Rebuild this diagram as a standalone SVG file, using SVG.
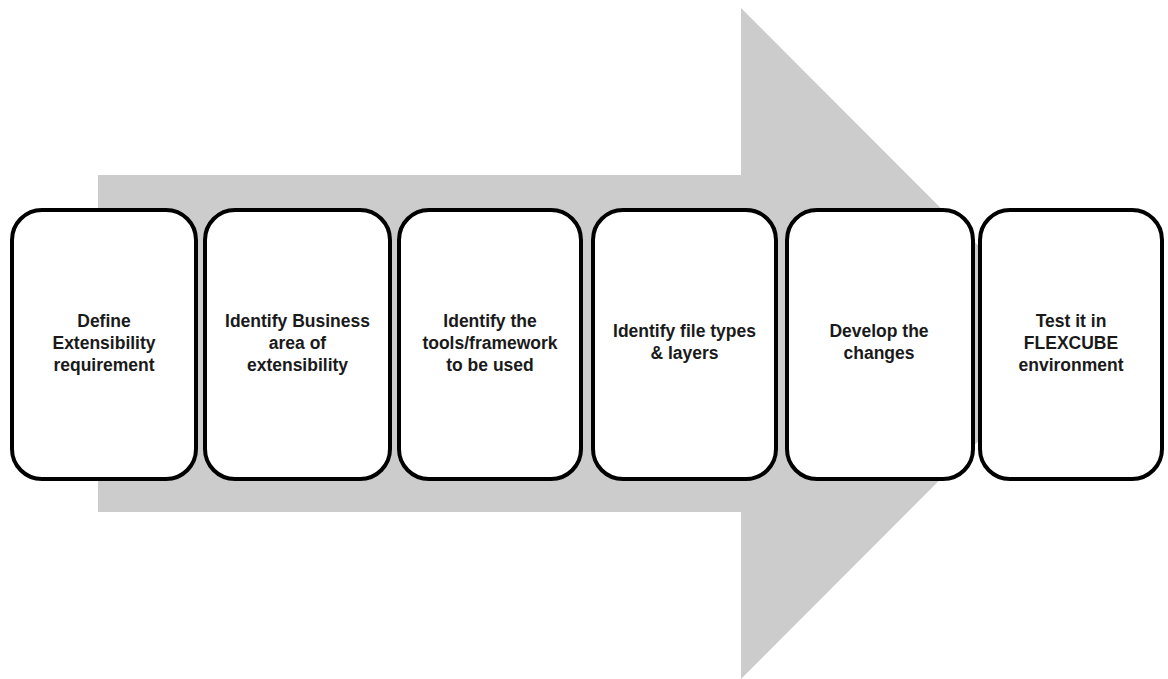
<svg xmlns="http://www.w3.org/2000/svg" width="1168" height="679" viewBox="0 0 1168 679">
<style>
.box{fill:#fff;stroke:#000;stroke-width:4}
.t{font-family:"Liberation Sans",Arial,sans-serif;font-size:17.5px;font-weight:bold;fill:#1a1a1a;text-anchor:middle}
</style>
<rect width="1168" height="679" fill="#fff"/>
<g id="arrow">
<polygon points="98,175 741,175 741,8 1076,343.5 741,679 741,512 98,512" fill="#cccccc"/>
</g>
<g id="connectors"></g>
<g id="n1"><rect class="box" x="12" y="210" width="184" height="269" rx="30"/>
<text class="t" x="104" y="327">Define</text><text class="t" x="104" y="349">Extensibility</text><text class="t" x="104" y="371">requirement</text></g>
<g id="n2"><rect class="box" x="205" y="210" width="185" height="269" rx="30"/>
<text class="t" x="297.5" y="327">Identify Business</text><text class="t" x="297.5" y="349">area of</text><text class="t" x="297.5" y="371">extensibility</text></g>
<g id="n3"><rect class="box" x="399" y="210" width="182" height="269" rx="30"/>
<text class="t" x="490" y="327">Identify the</text><text class="t" x="490" y="349">tools/framework</text><text class="t" x="490" y="371">to be used</text></g>
<g id="n4"><rect class="box" x="593" y="210" width="183" height="269" rx="30"/>
<text class="t" x="684.5" y="337">Identify file types</text><text class="t" x="684.5" y="359">&amp; layers</text></g>
<g id="n5"><rect class="box" x="787" y="210" width="186" height="269" rx="30"/>
<text class="t" x="879" y="337">Develop the</text><text class="t" x="879" y="359">changes</text></g>
<g id="n6"><rect class="box" x="980" y="210" width="182" height="269" rx="30"/>
<text class="t" x="1071" y="327">Test it in</text><text class="t" x="1071" y="349">FLEXCUBE</text><text class="t" x="1071" y="371">environment</text></g>
</svg>
